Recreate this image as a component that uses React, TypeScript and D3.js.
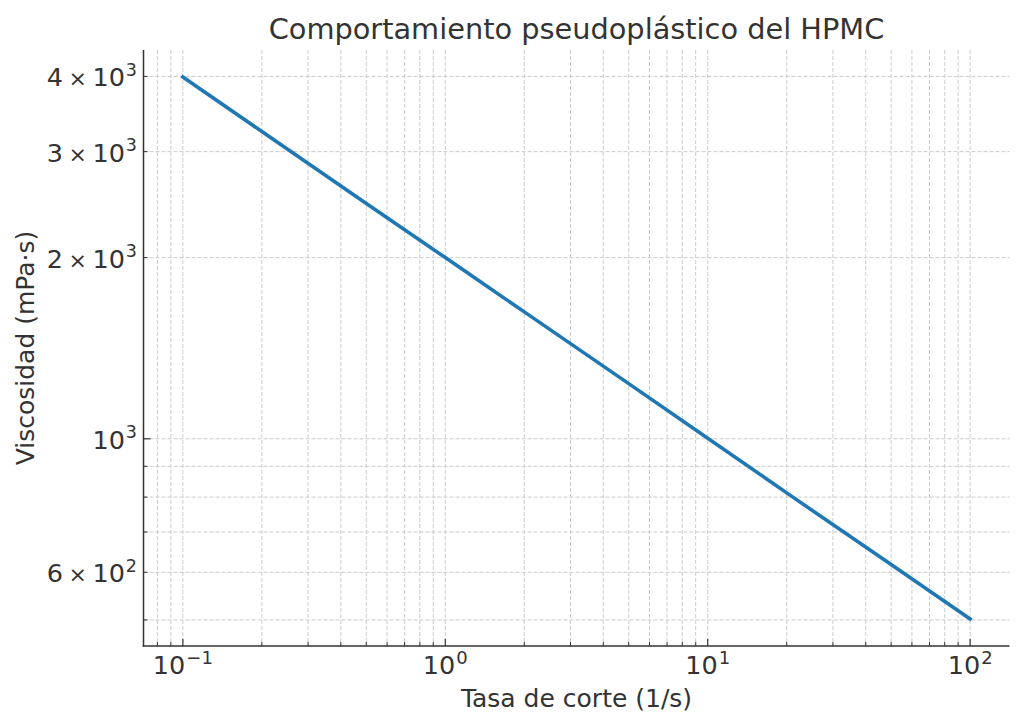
import React, { useEffect, useRef } from 'react';
import * as d3 from 'd3';

// Datos (ley de potencia, escala log-log)
const shearRates = [0.1, 0.2, 0.5, 1, 2, 5, 10, 20, 50, 100];
const viscosities = [3990, 3240, 2460, 2000, 1625, 1235, 1002, 813, 618, 502];

// Marcas de los ejes
const xMajorTicks = [0.1, 1, 10, 100];
const xMajorLabels = [['10', '−1'], ['10', '0'], ['10', '1'], ['10', '2']];
const yMajorTicks = [1000];
const yMinorTicks = [500, 600, 700, 800, 900, 2000, 3000, 4000];
const yTickLabels: [number, string, string, string][] = [
  [4000, '4', '10', '3'],
  [3000, '3', '10', '3'],
  [2000, '2', '10', '3'],
  [1000, '', '10', '3'],
  [600, '6', '10', '2'],
];

const TITLE = 'Comportamiento pseudoplástico del HPMC';
const X_LABEL = 'Tasa de corte (1/s)';
const Y_LABEL = 'Viscosidad (mPa·s)';

const W = 1024;
const H = 727;
const FONT = '"DejaVu Sans", sans-serif';
const TEXT = '#333333';

const App: React.FC = () => {
  const ref = useRef<SVGSVGElement>(null);

  useEffect(() => {
    document.body.style.margin = '0';
    const svg = d3.select(ref.current);
    svg.selectAll('*').remove();

    const left = 143.5, right = 1009.5, top = 50, bottom = 646;

    // márgenes del 5% en espacio logarítmico, como matplotlib
    const lx = d3.extent(shearRates.map(Math.log10)) as [number, number];
    const ly = d3.extent(viscosities.map(Math.log10)) as [number, number];
    const px = (lx[1] - lx[0]) * 0.05;
    const py = (ly[1] - ly[0]) * 0.05;

    const x = d3.scaleLog().domain([10 ** (lx[0] - px), 10 ** (lx[1] + px)]).range([left, right]);
    const y = d3.scaleLog().domain([10 ** (ly[0] - py), 10 ** (ly[1] + py)]).range([bottom, top]);

    // menores del eje x: 2..9 por década dentro del dominio
    const [xd0, xd1] = x.domain();
    const xMinorTicks: number[] = [];
    for (let e = -2; e <= 2; e++) {
      for (let m = 2; m <= 9; m++) {
        const v = m * 10 ** e;
        if (v >= xd0 && v <= xd1) xMinorTicks.push(v);
      }
    }

    const grid = svg.append('g')
      .attr('stroke', '#cccccc')
      .attr('stroke-width', 1)
      .attr('stroke-dasharray', '4,2');

    [...xMinorTicks, ...xMajorTicks].forEach(v => {
      grid.append('line')
        .attr('x1', x(v)).attr('x2', x(v))
        .attr('y1', top).attr('y2', bottom);
    });
    [...yMinorTicks, ...yMajorTicks].forEach(v => {
      grid.append('line')
        .attr('x1', left).attr('x2', right)
        .attr('y1', y(v)).attr('y2', y(v));
    });

    // curva
    const line = d3.line<number>()
      .x((_, i) => x(shearRates[i]))
      .y(d => y(d));
    svg.append('path')
      .datum(viscosities)
      .attr('d', line)
      .attr('fill', 'none')
      .attr('stroke', '#1f77b4')
      .attr('stroke-width', 3.6)
      .attr('stroke-linecap', 'square');

    // ejes (solo izquierdo e inferior), marcas hacia dentro
    const axes = svg.append('g').attr('stroke', '#333333');
    axes.append('line').attr('x1', left).attr('x2', left).attr('y1', top).attr('y2', bottom + 0.75).attr('stroke-width', 1.5);
    axes.append('line').attr('x1', left - 0.75).attr('x2', right).attr('y1', bottom).attr('y2', bottom).attr('stroke-width', 1.5);

    xMajorTicks.forEach(v => {
      axes.append('line').attr('x1', x(v)).attr('x2', x(v)).attr('y1', bottom).attr('y2', bottom - 7).attr('stroke-width', 1.2);
    });
    xMinorTicks.forEach(v => {
      axes.append('line').attr('x1', x(v)).attr('x2', x(v)).attr('y1', bottom).attr('y2', bottom - 4).attr('stroke-width', 1);
    });
    yMajorTicks.forEach(v => {
      axes.append('line').attr('x1', left).attr('x2', left + 7).attr('y1', y(v)).attr('y2', y(v)).attr('stroke-width', 1.2);
    });
    yMinorTicks.forEach(v => {
      axes.append('line').attr('x1', left).attr('x2', left + 4).attr('y1', y(v)).attr('y2', y(v)).attr('stroke-width', 1);
    });

    const txt = svg.append('g').attr('font-family', FONT).attr('fill', TEXT);

    // etiquetas eje x
    xMajorTicks.forEach((v, i) => {
      const t = txt.append('text')
        .attr('x', x(v)).attr('y', 673.5)
        .attr('text-anchor', 'middle')
        .attr('font-size', 25.5);
      t.append('tspan').text(xMajorLabels[i][0]);
      t.append('tspan').attr('dy', -9.5).attr('dx', 1).attr('font-size', 18).text(xMajorLabels[i][1]);
    });

    // etiquetas eje y
    yTickLabels.forEach(([v, m, b, e]) => {
      const t = txt.append('text')
        .attr('x', 137).attr('y', y(v) + 10)
        .attr('text-anchor', 'end')
        .attr('font-size', 25.5);
      if (m) {
        t.append('tspan').text(m);
        t.append('tspan').attr('dx', 5.5).attr('font-size', 22).text('×');
        t.append('tspan').attr('dx', 5.5).text(b);
      } else {
        t.append('tspan').text(b);
      }
      t.append('tspan').attr('dy', -10.5).attr('dx', 1).attr('font-size', 17.5).text(e);
    });

    // títulos
    txt.append('text')
      .attr('x', (left + right) / 2).attr('y', 39)
      .attr('text-anchor', 'middle')
      .attr('font-size', 28.8)
      .text(TITLE);
    txt.append('text')
      .attr('x', (left + right) / 2).attr('y', 707)
      .attr('text-anchor', 'middle')
      .attr('font-size', 25)
      .text(X_LABEL);
    txt.append('text')
      .attr('transform', `translate(34,${(top + bottom) / 2}) rotate(-90)`)
      .attr('text-anchor', 'middle')
      .attr('font-size', 25)
      .text(Y_LABEL);
  }, []);

  return <svg ref={ref} width={W} height={H} style={{ display: 'block', background: '#fff' }} />;
};

export default App;
